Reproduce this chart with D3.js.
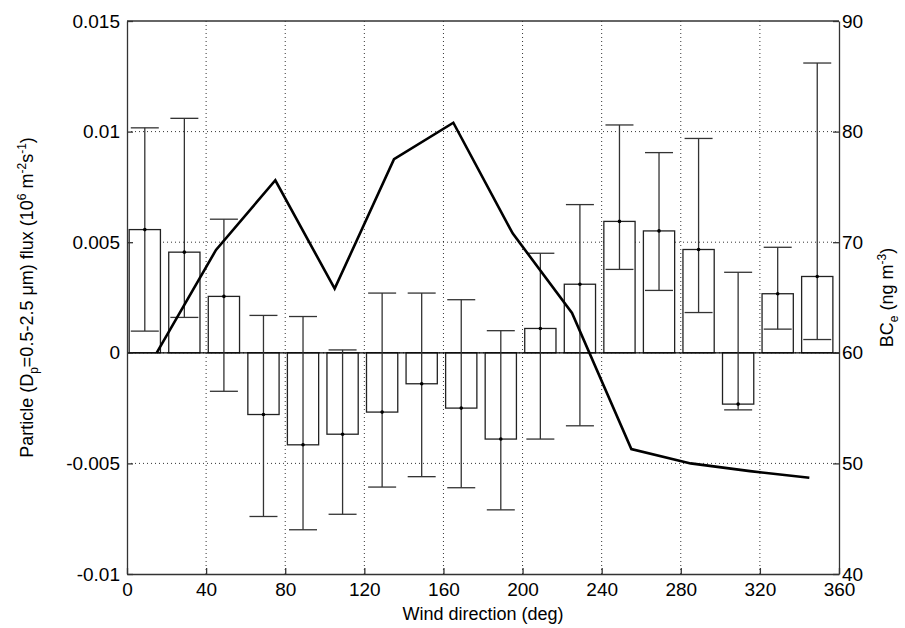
<!DOCTYPE html>
<html>
<head>
<meta charset="utf-8">
<script src="https://cdn.jsdelivr.net/npm/d3@7"></script>
<style>
  body { margin: 0; background: #fff; }
  text { font-family: "Liberation Sans", Arial, sans-serif; fill: #000; }
</style>
</head>
<body>
<svg id="chart" width="905" height="628"></svg>
<script>
// wind direction bins (bar centres, deg)
const dirs = [9, 29, 49, 69, 89, 109, 129, 149, 169, 189, 209, 229, 249, 269, 289, 309, 329, 349];
const flux = [0.00557, 0.00455, 0.00255, -0.00279, -0.00416, -0.00368, -0.00268, -0.0014, -0.0025, -0.0039,
              0.0011, 0.0031, 0.00594, 0.00551, 0.00467, -0.00232, 0.00267, 0.00345];
const errTop = [0.01017, 0.0106, 0.00604, 0.00169, 0.00164, 0.00013, 0.0027, 0.0027, 0.0024, 0.001,
                0.0045, 0.0067, 0.0103, 0.00905, 0.00969, 0.00364, 0.00477, 0.0131];
const errBot = [0.00098, 0.0016, -0.00174, -0.0074, -0.008, -0.0073, -0.00607, -0.0056, -0.0061, -0.0071,
                -0.0039, -0.0033, 0.00377, 0.00282, 0.00182, -0.00258, 0.00107, 0.0006];
// BC line
const bcDirs = [15, 45, 75, 105, 135, 165, 195, 225, 255, 285, 315, 345];
const bcVals = [60, 69.3, 75.6, 65.8, 77.5, 80.8, 70.8, 63.6, 51.3, 50.0, 49.3, 48.7];

const xTicks = d3.range(0, 361, 40);
const yTicks = [-0.01, -0.005, 0, 0.005, 0.01, 0.015];
const y2Ticks = [40, 50, 60, 70, 80, 90];

const L = 127, R = 839, T = 21, B = 574;
const svg = d3.select('#chart');
const x = d3.scaleLinear().domain([0, 360]).range([L, R]);
const y = d3.scaleLinear().domain([-0.01, 0.015]).range([B, T]);
const y2 = d3.scaleLinear().domain([40, 90]).range([B, T]);

// grid
const grid = svg.append('g').attr('stroke', '#000').attr('stroke-width', 0.8)
  .attr('stroke-dasharray', '1,3');
grid.selectAll('.gx').data(xTicks.slice(1, -1)).enter().append('line')
  .attr('x1', d => x(d)).attr('x2', d => x(d)).attr('y1', T).attr('y2', B);
grid.selectAll('.gy').data(yTicks.slice(1, -1)).enter().append('line')
  .attr('x1', L).attr('x2', R).attr('y1', d => y(d)).attr('y2', d => y(d));

// bars
const bw = 15.8;
svg.append('g').selectAll('rect').data(flux).enter().append('rect')
  .attr('x', (d, i) => x(dirs[i] - bw / 2))
  .attr('width', x(bw) - x(0))
  .attr('y', d => y(Math.max(0, d)))
  .attr('height', d => Math.abs(y(d) - y(0)))
  .attr('fill', '#fff').attr('stroke', '#222').attr('stroke-width', 1.3);

svg.append('line').attr('x1', L).attr('x2', R).attr('y1', y(0)).attr('y2', y(0))
  .attr('stroke', '#000').attr('stroke-width', 1.3);

// error bars
const eb = svg.append('g').attr('stroke', '#333').attr('stroke-width', 1.3);
const cap = 14;
flux.forEach((d, i) => {
  const cx = x(dirs[i]);
  eb.append('line').attr('x1', cx).attr('x2', cx).attr('y1', y(errTop[i])).attr('y2', y(errBot[i]));
  eb.append('line').attr('x1', cx - cap).attr('x2', cx + cap).attr('y1', y(errTop[i])).attr('y2', y(errTop[i]));
  eb.append('line').attr('x1', cx - cap).attr('x2', cx + cap).attr('y1', y(errBot[i])).attr('y2', y(errBot[i]));
  svg.append('circle').attr('cx', cx).attr('cy', y(d)).attr('r', 1.8).attr('fill', '#000');
});

// BC line
svg.append('path').datum(bcVals)
  .attr('d', d3.line().x((d, i) => x(bcDirs[i])).y(d => y2(d)))
  .attr('fill', 'none').attr('stroke', '#000').attr('stroke-width', 2.6);

// axes
const fs = '19px';
const ax = svg.append('g').attr('transform', `translate(0,${B})`)
  .call(d3.axisBottom(x).tickValues(xTicks).tickSizeInner(-6).tickSizeOuter(0).tickPadding(9));
const ay = svg.append('g').attr('transform', `translate(${L},0)`)
  .call(d3.axisLeft(y).tickValues(yTicks).tickFormat(d => d === 0 ? '0' : String(+d.toFixed(3))).tickSizeInner(-6).tickSizeOuter(0).tickPadding(7));
const ay2 = svg.append('g').attr('transform', `translate(${R},0)`)
  .call(d3.axisRight(y2).tickValues(y2Ticks).tickSizeInner(-6).tickSizeOuter(0).tickPadding(3));
[ax, ay, ay2].forEach(g => {
  g.selectAll('text').style('font-size', fs);
  g.selectAll('line, path').attr('stroke', '#333').attr('stroke-width', 1.3);
});
svg.append('line').attr('x1', L).attr('x2', R).attr('y1', T).attr('y2', T)
  .attr('stroke', '#333').attr('stroke-width', 1.3);

// labels
svg.append('text').attr('x', (L + R) / 2).attr('y', 620).attr('text-anchor', 'middle')
  .style('font-size', '18px').text('Wind direction (deg)');

const yl = svg.append('text').attr('transform', `translate(33,${(T + B) / 2}) rotate(-90)`)
  .attr('text-anchor', 'middle').style('font-size', '18px');
yl.append('tspan').text('Particle (D');
yl.append('tspan').attr('dy', 5).style('font-size', '12px').text('p');
yl.append('tspan').attr('dy', -5).text('=0.5-2.5 \u03bcm) flux (10');
yl.append('tspan').attr('dy', -7).style('font-size', '12px').text('6');
yl.append('tspan').attr('dy', 7).text(' m');
yl.append('tspan').attr('dy', -7).style('font-size', '12px').text('-2');
yl.append('tspan').attr('dy', 7).text('s');
yl.append('tspan').attr('dy', -7).style('font-size', '12px').text('-1');
yl.append('tspan').attr('dy', 7).text(')');

const y2l = svg.append('text').attr('transform', `translate(893,${(T + B) / 2}) rotate(-90)`)
  .attr('text-anchor', 'middle').style('font-size', '18px');
y2l.append('tspan').text('BC');
y2l.append('tspan').attr('dy', 5).style('font-size', '12px').text('e');
y2l.append('tspan').attr('dy', -5).text(' (ng m');
y2l.append('tspan').attr('dy', -7).style('font-size', '12px').text('-3');
y2l.append('tspan').attr('dy', 7).text(')');
</script>
</body>
</html>
